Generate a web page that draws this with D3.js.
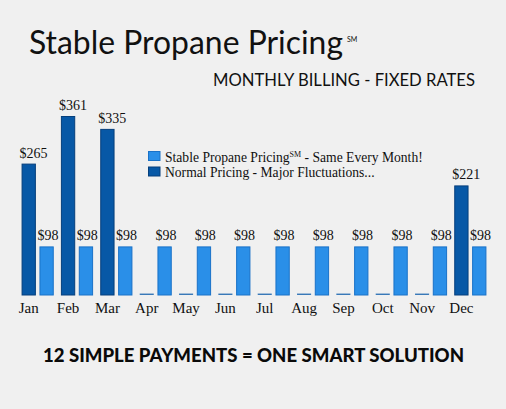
<!DOCTYPE html>
<html>
<head>
<meta charset="utf-8">
<script src="https://cdn.jsdelivr.net/npm/d3@7/dist/d3.min.js"></script>
<style>
  html, body { margin: 0; padding: 0; background: #f0f0f0; }
  svg { display: block; }
</style>
</head>
<body>
<div id="chart"></div>
<script>
var months = ["Jan", "Feb", "Mar", "Apr", "May", "Jun", "Jul", "Aug", "Sep", "Oct", "Nov", "Dec"];
var normalPricing = [265, 361, 335, 0, 0, 0, 0, 0, 0, 0, 0, 221];
var stablePricing = [98, 98, 98, 98, 98, 98, 98, 98, 98, 98, 98, 98];
var seriesNames = ["Normal Pricing - Major Fluctuations...", "Stable Propane Pricing - Same Every Month!"];

var width = 506, height = 409;

var svg = d3.select("#chart").append("svg")
    .attr("width", width)
    .attr("height", height);

svg.append("rect")
    .attr("width", width)
    .attr("height", height)
    .attr("fill", "#f0f0f0");

// titles
svg.append("text")
    .attr("x", 29)
    .attr("y", 54)
    .attr("font-family", "Lato, 'Open Sans', sans-serif")
    .attr("font-size", 32)
    .attr("fill", "#111")
    .attr("textLength", 314)
    .attr("lengthAdjust", "spacingAndGlyphs")
    .text("Stable Propane Pricing");
svg.append("text")
    .attr("x", 347)
    .attr("y", 42)
    .attr("font-family", "Lato, sans-serif")
    .attr("font-size", 7)
    .attr("fill", "#111")
    .text("SM");

svg.append("text")
    .attr("x", 213)
    .attr("y", 86)
    .attr("font-family", "Lato, 'Open Sans', sans-serif")
    .attr("font-size", 17)
    .attr("fill", "#111")
    .attr("textLength", 262)
    .attr("lengthAdjust", "spacingAndGlyphs")
    .text("MONTHLY BILLING - FIXED RATES");

svg.append("text")
    .attr("x", 43)
    .attr("y", 362)
    .attr("font-family", "Lato, 'Open Sans', sans-serif")
    .attr("font-weight", "900")
    .attr("font-size", 19)
    .attr("fill", "#0a0a0a")
    .attr("textLength", 421)
    .attr("lengthAdjust", "spacingAndGlyphs")
    .text("12 SIMPLE PAYMENTS = ONE SMART SOLUTION");

// scales
var x0 = d3.scaleBand()
    .domain(months)
    .range([18, 490])
    .paddingInner(0)
    .paddingOuter(0);

var x1 = d3.scaleBand()
    .domain(["normal", "stable"])
    .range([0, x0.bandwidth()])
    .padding(0.2);

var y = d3.scaleLinear()
    .domain([0, 361])
    .range([295, 116]);

var series = [
    { key: "normal", values: normalPricing, fill: "#0758a6", stroke: "#063f7c" },
    { key: "stable", values: stablePricing, fill: "#2a8fe8", stroke: "#1a72c8" }
];

var serif = "'Liberation Serif', 'DejaVu Serif', serif";

var groups = svg.append("g").attr("class", "bars")
    .selectAll("g")
    .data(series)
    .join("g");

groups.selectAll("rect")
    .data(function(s) {
        return s.values.map(function(v, i) { return { month: months[i], value: v, s: s }; });
    })
    .join("rect")
    .attr("x", function(d) { return x0(d.month) + x1(d.s.key) + 0.5; })
    .attr("y", function(d) { return d.value > 0 ? y(d.value) + 0.5 : y(0) - 1; })
    .attr("width", x1.bandwidth() - 1)
    .attr("height", function(d) { return d.value > 0 ? y(0) - y(d.value) - 0.5 : 0.5; })
    .attr("fill", function(d) { return d.s.fill; })
    .attr("stroke", function(d) { return d.value > 0 ? d.s.stroke : "#2a6fb4"; })
    .attr("stroke-width", function(d) { return d.value > 0 ? 1 : 0.8; });

// value labels
groups.selectAll("text")
    .data(function(s) {
        return s.values.map(function(v, i) { return { month: months[i], value: v, s: s }; })
            .filter(function(d) { return d.value > 0; });
    })
    .join("text")
    .attr("x", function(d) { return x0(d.month) + x1(d.s.key) - 2; })
    .attr("y", function(d) { return y(d.value) - 6; })
    .attr("font-family", serif)
    .attr("font-size", 14)
    .attr("fill", "#111")
    .text(function(d) { return "$" + d.value; });

// x axis labels, centred under the first bar of each month
var xAxis = d3.axisBottom(x0).tickSize(0).tickPadding(0);
var axisG = svg.append("g")
    .attr("transform", "translate(0,300)")
    .call(xAxis);
axisG.select(".domain").remove();
axisG.selectAll(".tick")
    .attr("transform", function(d) {
        return "translate(" + (x0(d) + x1("normal") + x1.bandwidth() / 2) + ",0)";
    });
axisG.selectAll(".tick text")
    .attr("dy", "0.85em")
    .attr("font-family", serif)
    .attr("font-size", 15)
    .attr("fill", "#111");

// legend
var legend = svg.append("g")
    .attr("transform", "translate(148,151)");
var legendItems = [
    { name: seriesNames[1], color: series[1].fill, stroke: series[1].stroke },
    { name: seriesNames[0], color: series[0].fill, stroke: series[0].stroke }
];
var li = legend.selectAll("g")
    .data(legendItems)
    .join("g")
    .attr("transform", function(d, i) { return "translate(0," + (i * 15.5) + ")"; });
li.append("rect")
    .attr("x", 0.5)
    .attr("y", 0.5)
    .attr("width", 11.5)
    .attr("height", 9)
    .attr("fill", function(d) { return d.color; })
    .attr("stroke", function(d) { return d.stroke; });
li.append("text")
    .attr("x", 17)
    .attr("y", 10.5)
    .attr("font-family", serif)
    .attr("font-size", 13.6)
    .attr("fill", "#111")
    .each(function(d, i) {
        var t = d3.select(this);
        if (i === 0) {
            t.append("tspan").text("Stable Propane Pricing");
            t.append("tspan").attr("dy", -5).attr("font-size", 8).text("SM");
            t.append("tspan").attr("dy", 5).text(" - Same Every Month!");
        } else {
            t.text(d.name);
        }
    });
</script>
</body>
</html>
